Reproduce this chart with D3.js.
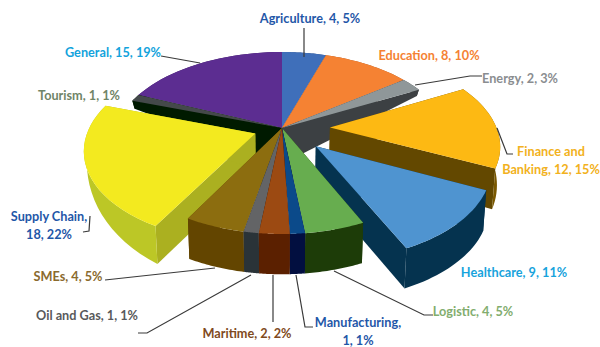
<!DOCTYPE html>
<html>
<head>
<meta charset="utf-8">
<script src="https://cdn.jsdelivr.net/npm/d3@7/dist/d3.min.js"></script>
<style>
  html, body { margin: 0; padding: 0; background: #fff; }
  svg { display: block; }
  text { font-family: Lato, "Open Sans", sans-serif; font-weight: 700; font-size: 12.7px; }
</style>
</head>
<body>
<svg id="chart" width="600" height="347"></svg>
<script>
// Sector counts, clockwise from twelve o'clock
const categories = ["Agriculture", "Education", "Energy", "Finance and Banking", "Healthcare", "Logistic",
  "Manufacturing", "Maritime", "Oil and Gas", "SMEs", "Supply Chain", "Tourism", "General"];
const counts = [4, 8, 2, 12, 9, 4, 1, 2, 1, 4, 18, 1, 15];
const percents = [5, 10, 3, 15, 11, 5, 1, 2, 1, 5, 22, 1, 19];
// How far each slice is pulled out of the pie, as a fraction of the radius
const pulled = [0, 0, 0, 0.288, 0.28, 0, 0, 0, 0, 0, 0.17, 0, 0];

const topColors = ["#3f6fba", "#f58233", "#8f9799", "#fdb913", "#4f94d0", "#67ad4f", "#0b4a8a",
  "#9c4a12", "#636466", "#8c6d0f", "#f3ea1f", "#44494a", "#5c2d91"];
const sideColors = ["#2a4a80", "#a65520", "#3c4043", "#634800", "#05334f", "#1d3c08", "#020f40",
  "#5b2000", "#2a3338", "#634500", "#abb020", "#001a00", "#3a1a60"];
const rimColors = ["#2a4a80", "#a65520", "#3c4043", "#7a5800", "#05334f", "#1d3c08", "#020f40",
  "#5b2000", "#2a3338", "#634500", "#bcc726", "#001a00", "#3a1a60"];

// Painting order: rear slices first, then the front ones closing in on the middle
const paintOrder = [0, 12, 1, 2, 11, 3, 4, 10, 5, 6, 9, 8, 7];

// Text placement: text lines, anchor x, baselines, colour
const labelLayout = [
  { i: 0,  lines: ["Agriculture, 4, 5%"], x: 310, y: [23], fill: "#1f57a8" },
  { i: 1,  lines: ["Education, 8, 10%"], x: 429, y: [60], fill: "#f58233" },
  { i: 2,  lines: ["Energy, 2, 3%"], x: 520, y: [83], fill: "#8a8d90" },
  { i: 3,  lines: ["Finance and", "Banking, 12, 15%"], x: 551, y: [156, 174], fill: "#f2b120" },
  { i: 4,  lines: ["Healthcare, 9, 11%"], x: 514, y: [277], fill: "#17a3dc" },
  { i: 5,  lines: ["Logistic, 4, 5%"], x: 473, y: [316], fill: "#82ad6e" },
  { i: 6,  lines: ["Manufacturing,", "1, 1%"], x: 358, y: [327, 345], fill: "#1f57a8" },
  { i: 7,  lines: ["Maritime, 2, 2%"], x: 247, y: [338], fill: "#7f4a21" },
  { i: 8,  lines: ["Oil and Gas, 1, 1%"], x: 87, y: [320], fill: "#58595b" },
  { i: 9,  lines: ["SMEs, 4, 5%"], x: 68, y: [281], fill: "#8a6a2e" },
  { i: 10, lines: ["Supply Chain,", "18, 22%"], x: 49, y: [221, 239], fill: "#1f57a8" },
  { i: 11, lines: ["Tourism, 1, 1%"], x: 79, y: [100], fill: "#6f8466" },
  { i: 12, lines: ["General, 15, 19%"], x: 113, y: [57], fill: "#13a3dc" }
];

// Leader lines from slices to their labels
const leaderPaths = [
  [[304, 28], [304, 57]],
  [[415, 85], [470, 76], [482, 76]],
  [[497, 128], [507, 154], [513, 154]],
  [[334, 271], [424, 315], [433, 315]],
  [[296, 275], [305, 327], [313, 327]],
  [[273, 275], [273, 322]],
  [[251, 275], [147, 333], [138, 333]],
  [[215, 268], [105, 280]],
  [[90, 216], [89, 231], [83, 232]],
  [[161, 56], [200, 63]]
];

const cx = 282, cy = 128;
const spreadX = 166.6, spreadY = 88.5, perspective = 0.165;

// Wall height by position in the pie plane: walls at the rear are foreshortened,
// and the far-left rim loses height faster than the rest
const wallHeight = d3.scaleLinear()
  .domain([-1.2, -0.45, 0, 0.26, 1])
  .range([40, 41, 36, 8, 2])
  .clamp(true);
const farLeftWallHeight = d3.scaleLinear()
  .domain([-0.94, -0.75, -0.5, -0.15, 0.26])
  .range([38, 30, 20, 6, 8])
  .clamp(true);

// Pie-plane coordinates (u to the right, v to the rear) to screen position
function project(u, v) {
  const k = 1 + perspective * v;
  return [cx + u * spreadX / k, cy - v * spreadY / k];
}
function planePoint(angle, radius, off) {
  return [radius * Math.sin(angle) + off[0], radius * Math.cos(angle) + off[1]];
}
function dropped(uv) {
  const p = project(uv[0], uv[1]);
  const h = uv[0] < -0.6 ? farLeftWallHeight(uv[1]) : wallHeight(uv[1]);
  return [p[0] - (p[0] - cx) * 0.015, p[1] + h];
}

const arcs = d3.pie().sort(null).value(d => d)(counts);
const svg = d3.select("#chart");
const line = d3.line();
const closed = d3.line().curve(d3.curveLinearClosed);

paintOrder.forEach(i => {
  const a = arcs[i];
  const mid = (a.startAngle + a.endAngle) / 2;
  const off = [pulled[i] * Math.sin(mid), pulled[i] * Math.cos(mid)];
  const steps = d3.range(0, 25).map(s => a.startAngle + (a.endAngle - a.startAngle) * s / 24);
  const rim = steps.map(t => planePoint(t, 1, off));
  const apex = off;
  const g = svg.append("g").attr("class", "slice");

  // radial walls
  [rim[0], rim[rim.length - 1]].forEach(edge => {
    g.append("path")
      .attr("d", closed([project(...apex), project(...edge), dropped(edge), dropped(apex)]))
      .attr("fill", sideColors[i]);
  });
  // curved outer wall
  g.append("path")
    .attr("d", closed(rim.map(p => project(...p)).concat(rim.slice().reverse().map(dropped))))
    .attr("fill", rimColors[i]);
  // top face
  g.append("path")
    .attr("d", closed([project(...apex)].concat(rim.map(p => project(...p)))))
    .attr("fill", topColors[i]);
});

svg.append("g").selectAll("path").data(leaderPaths).join("path")
  .attr("d", d => line(d))
  .attr("fill", "none")
  .attr("stroke", "#3a3a3a")
  .attr("stroke-width", 1.2);

const labels = svg.append("g").selectAll("text").data(labelLayout).join("text")
  .attr("text-anchor", "middle")
  .attr("fill", d => d.fill);
labels.each(function (d) {
  d3.select(this).selectAll("tspan").data(d.lines).join("tspan")
    .attr("x", d.x)
    .attr("y", (_, j) => d.y[j])
    .text(t => t);
});
</script>
</body>
</html>
